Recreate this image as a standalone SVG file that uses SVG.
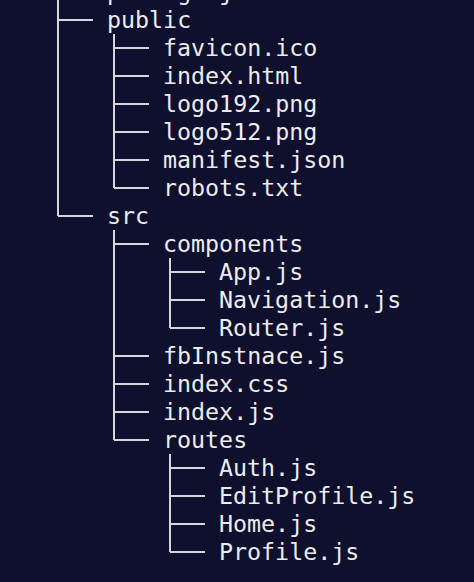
<svg xmlns="http://www.w3.org/2000/svg" width="474" height="582" viewBox="0 0 474 582">
<style>
.t{font-family:"DejaVu Sans Mono","Liberation Mono",monospace;font-size:23.3px;fill:#ececf0;}
.c{stroke:#d6d6dc;stroke-width:2;fill:none;}
</style>
<rect width="474" height="582" fill="#0f0f2e"/>
<g id="connectors" class="c">
<path d="M58,0V216M58,20H93M58,216H93"/>
<path d="M114,34V188M114,48H149M114,76H149M114,104H149M114,132H149M114,160H149M114,188H149"/>
<path d="M114,230V440M114,244H149M114,356H149M114,384H149M114,412H149M114,440H149"/>
<path d="M170,258V328M170,272H205M170,300H205M170,328H205"/>
<path d="M170,454V552M170,468H205M170,496H205M170,524H205M170,552H205"/>
</g>
<g id="package-json"><text class="t" x="107" y="0">package.json</text></g>
<g id="public"><text class="t" x="107" y="28">public</text></g>
<g id="favicon"><text class="t" x="163" y="56">favicon.ico</text></g>
<g id="index-html"><text class="t" x="163" y="84">index.html</text></g>
<g id="logo192"><text class="t" x="163" y="112">logo192.png</text></g>
<g id="logo512"><text class="t" x="163" y="140">logo512.png</text></g>
<g id="manifest"><text class="t" x="163" y="168">manifest.json</text></g>
<g id="robots"><text class="t" x="163" y="196">robots.txt</text></g>
<g id="src"><text class="t" x="107" y="224">src</text></g>
<g id="components"><text class="t" x="163" y="252">components</text></g>
<g id="app"><text class="t" x="219" y="280">App.js</text></g>
<g id="navigation"><text class="t" x="219" y="308">Navigation.js</text></g>
<g id="router"><text class="t" x="219" y="336">Router.js</text></g>
<g id="fbinstnace"><text class="t" x="163" y="364">fbInstnace.js</text></g>
<g id="index-css"><text class="t" x="163" y="392">index.css</text></g>
<g id="index-js"><text class="t" x="163" y="420">index.js</text></g>
<g id="routes"><text class="t" x="163" y="448">routes</text></g>
<g id="auth"><text class="t" x="219" y="476">Auth.js</text></g>
<g id="editprofile"><text class="t" x="219" y="504">EditProfile.js</text></g>
<g id="home"><text class="t" x="219" y="532">Home.js</text></g>
<g id="profile"><text class="t" x="219" y="560">Profile.js</text></g>
</svg>
